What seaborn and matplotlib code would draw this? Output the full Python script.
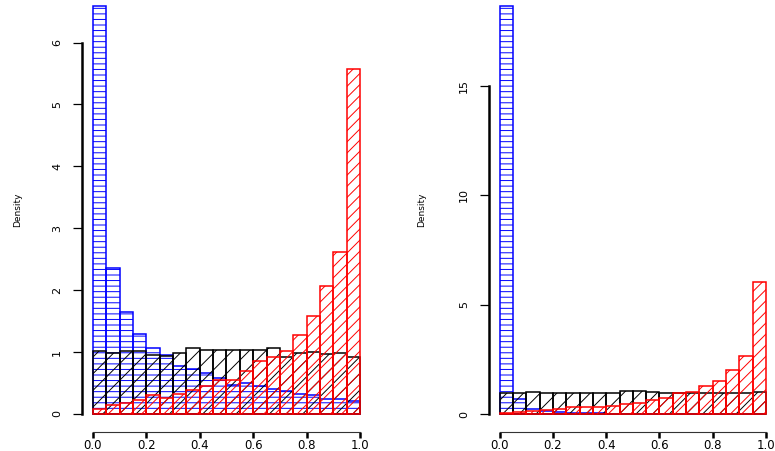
import numpy as np
import matplotlib
matplotlib.use("Agg")
import matplotlib.pyplot as plt
import seaborn as sns

# --- Data: density per bin, 20 bins of width 0.05 over [0, 1] ---
bin_starts = [0.00, 0.05, 0.10, 0.15, 0.20, 0.25, 0.30, 0.35, 0.40, 0.45,
              0.50, 0.55, 0.60, 0.65, 0.70, 0.75, 0.80, 0.85, 0.90, 0.95]
x_ticks = [0.0, 0.2, 0.4, 0.6, 0.8, 1.0]

# left panel
left_blue = [6.59, 2.36, 1.64, 1.30, 1.06, 0.95, 0.78, 0.72, 0.66, 0.58,
             0.47, 0.50, 0.46, 0.40, 0.37, 0.32, 0.31, 0.25, 0.24, 0.21]
left_black = [1.02, 0.98, 1.02, 1.01, 0.95, 0.94, 0.98, 1.07, 1.04, 1.04,
              1.03, 1.03, 1.04, 1.06, 0.92, 0.98, 1.00, 0.97, 0.99, 0.92]
left_red = [0.08, 0.14, 0.17, 0.22, 0.30, 0.26, 0.33, 0.39, 0.46, 0.55,
            0.55, 0.69, 0.85, 0.92, 1.01, 1.28, 1.59, 2.06, 2.62, 5.57]
left_yticks = [0, 1, 2, 3, 4, 5, 6]

# right panel
right_blue = [18.64, 0.70, 0.22, 0.15, 0.10, 0.07, 0.05, 0.04, 0.03, 0.03,
              0.02, 0.02, 0.01, 0.01, 0.01, 0.01, 0.00, 0.00, 0.00, 0.00]
right_black = [0.97, 0.95, 1.03, 0.96, 0.98, 0.98, 0.95, 0.98, 0.98, 1.06,
               1.06, 1.02, 0.98, 0.98, 0.96, 0.98, 0.99, 0.97, 0.98, 1.02]
right_red = [0.08, 0.12, 0.17, 0.20, 0.23, 0.33, 0.33, 0.35, 0.40, 0.47,
             0.52, 0.65, 0.73, 0.96, 1.03, 1.29, 1.52, 2.02, 2.68, 6.03]
right_yticks = [0, 5, 10, 15]


def draw_hist(ax, heights, color, hatch):
    # one bar per bin, heights passed as weights so the bins keep their values
    mids = np.array(bin_starts) + 0.025
    sns.histplot(x=mids, weights=heights, bins=20, binrange=(0, 1), stat="count",
                 fill=False, color=color, hatch=hatch, linewidth=1.1, ax=ax)


def style_axis(ax, yticks, ylim):
    ax.set_xlim(-0.04, 1.04)
    ax.set_ylim(*ylim)
    for side in ["top", "right"]:
        ax.spines[side].set_visible(False)
    ax.spines["left"].set_bounds(yticks[0], yticks[-1])
    ax.spines["left"].set_linewidth(1.8)
    ax.spines["bottom"].set_bounds(0, 1)
    ax.spines["bottom"].set_linewidth(0.8)
    ax.spines["bottom"].set_color("#333333")
    ax.set_xticks(x_ticks)
    ax.set_xticklabels([f"{t:.1f}" for t in x_ticks])
    ax.set_yticks(yticks)
    ax.set_yticklabels([str(t) for t in yticks], rotation=90, va="center")
    ax.tick_params(axis="x", bottom=True, length=4, width=1.8, pad=1.5,
                   labelsize=8.5, color="black", labelcolor="black")
    ax.tick_params(axis="y", left=True, length=6.5, width=0.9, pad=8,
                   labelsize=8, color="black", labelcolor="black")
    ax.set_xlabel("")
    ax.set_ylabel("Density", fontsize=6.5, va="center", color="black")
    ax.grid(False)


sns.set_style("ticks")
plt.rcParams['font.family'] = ['DejaVu Sans']
plt.rcParams['axes.edgecolor'] = 'black'
plt.rcParams['hatch.linewidth'] = 0.7

fig = plt.figure(figsize=(7.75, 4.51), dpi=100)
ax_left = fig.add_axes([0.1062, 0.0428, 0.3721, 0.9572])
ax_right = fig.add_axes([0.6310, 0.0428, 0.3711, 0.9572])

draw_hist(ax_left, left_blue, "blue", "---")
draw_hist(ax_left, left_black, "black", "//")
draw_hist(ax_left, left_red, "red", "///")
style_axis(ax_left, left_yticks, (-0.286, 6.688))
ax_left.yaxis.set_label_coords(-0.226, 0.514)

draw_hist(ax_right, right_blue, "blue", "---")
draw_hist(ax_right, right_black, "black", "//")
draw_hist(ax_right, right_red, "red", "///")
style_axis(ax_right, right_yticks, (-0.795, 18.92))
ax_right.yaxis.set_label_coords(-0.234, 0.514)

fig.savefig("out.png", dpi=100)
